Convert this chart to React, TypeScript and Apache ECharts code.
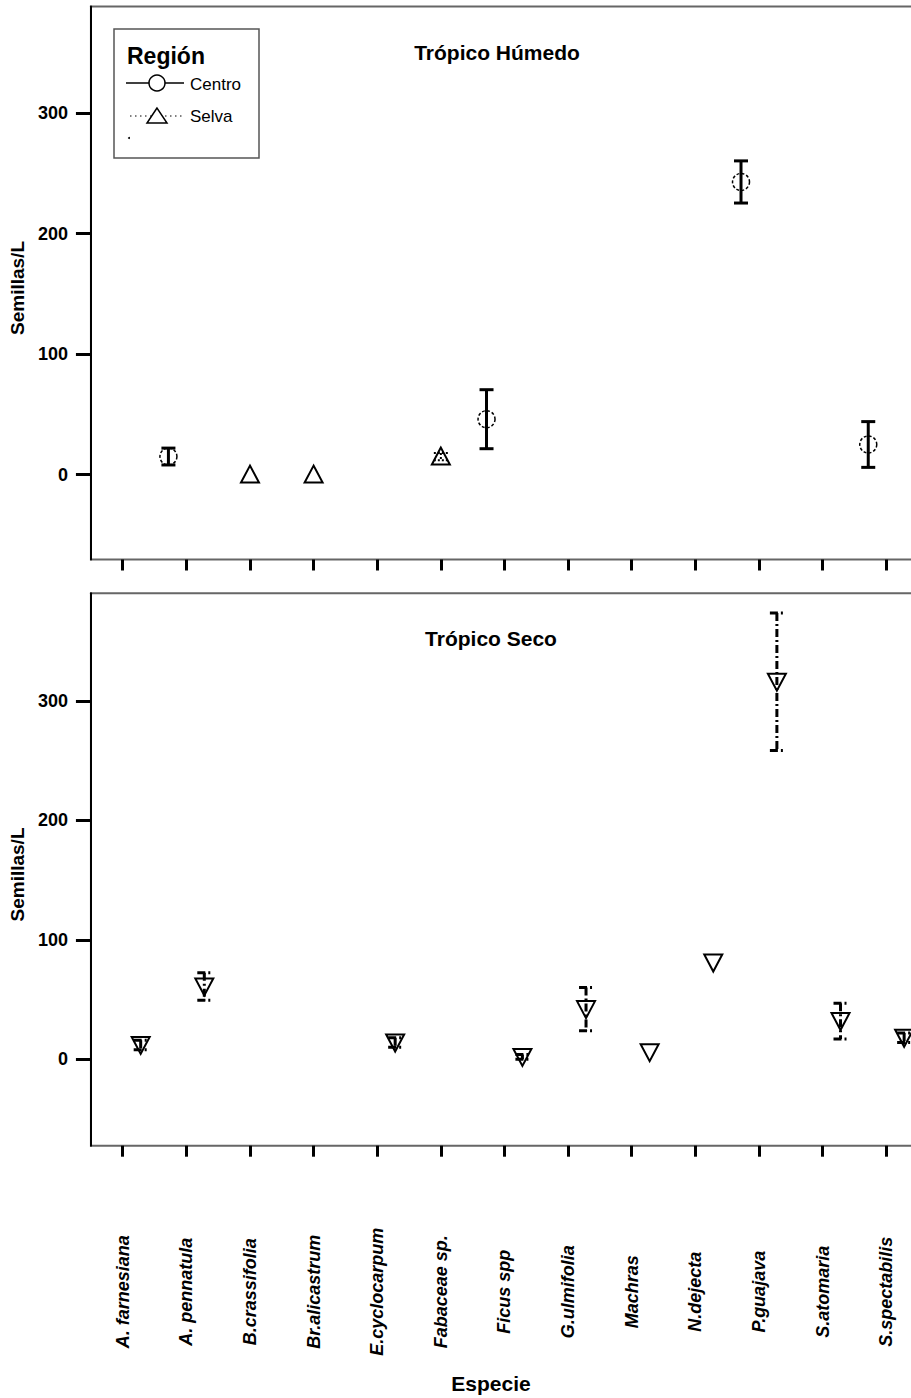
import React, { useEffect, useRef } from 'react';
import * as echarts from 'echarts';

const species = [
  'A. farnesiana', 'A. pennatula', 'B.crassifolia', 'Br.alicastrum', 'E.cyclocarpum',
  'Fabaceae sp.', 'Ficus spp', 'G.ulmifolia', 'Machras', 'N.dejecta',
  'P.guajava', 'S.atomaria', 'S.spectabilis',
];

// Trópico Húmedo — Centro
const centroMean = [null, 15, null, null, null, null, 46, null, null, null, 243, null, 25];
const centroErr = [null, 7, null, null, null, null, 24.5, null, null, null, 17.5, null, 19];
// Trópico Húmedo — Selva
const selvaMean = [null, null, 0, 0, null, 15, null, null, null, null, null, null, null];
const selvaErr = [null, null, 0, 0, null, 3, null, null, null, null, null, null, null];
// Trópico Seco — (región sin nombre)
const secoMean = [12, 61, null, null, 14, null, 2, 42, 6, 81, 316, 32, 18];
const secoErr = [4, 11.5, null, null, 4, null, 2, 18, 0, 0, 57.5, 15, 4];

const yTicks = [0, 100, 200, 300];

const FONT = 'Liberation Sans, Arial, Helvetica, sans-serif';

function buildData(mean: (number | null)[], err: (number | null)[]) {
  const out: number[][] = [];
  mean.forEach((m, i) => {
    if (m != null) {
      const e = err[i] || 0;
      out.push([i, m, m - e, m + e]);
    }
  });
  return out;
}

function makeRender(kind: 'circle' | 'up' | 'down', offsetFrac: number, barStyle: any) {
  return (params: any, api: any) => {
    const i = api.value(0);
    const m = api.value(1);
    const lo = api.value(2);
    const hi = api.value(3);
    const band = api.size([1, 0])[0];
    const c = api.coord([i, m]);
    const x = c[0] + band * offsetFrac;
    const cy = c[1];
    const yLo = api.coord([i, lo])[1];
    const yHi = api.coord([i, hi])[1];
    const children: any[] = [];
    if (Math.abs(yLo - yHi) > 0.5) {
      children.push({ type: 'line', shape: { x1: x, y1: yHi, x2: x, y2: yLo }, style: barStyle });
      children.push({ type: 'line', shape: { x1: x - 7, y1: yHi, x2: x + 7, y2: yHi }, style: barStyle });
      children.push({ type: 'line', shape: { x1: x - 7, y1: yLo, x2: x + 7, y2: yLo }, style: barStyle });
    }
    if (kind === 'circle') {
      children.push({
        type: 'circle',
        shape: { cx: x, cy, r: 8.5 },
        style: { fill: 'none', stroke: '#000', lineWidth: 1.5, lineDash: [3, 2] },
      });
    } else if (kind === 'up') {
      children.push({
        type: 'polygon',
        shape: { points: [[x, cy - 9], [x - 9, cy + 8], [x + 9, cy + 8]] },
        style: { fill: 'none', stroke: '#000', lineWidth: 2 },
      });
    } else {
      children.push({
        type: 'polygon',
        shape: { points: [[x - 9, cy - 8], [x + 9, cy - 8], [x, cy + 9]] },
        style: { fill: 'none', stroke: '#000', lineWidth: 2 },
      });
    }
    return { type: 'group', children };
  };
}

const yAxisBase = (gridIndex: number, min: number, max: number) => ({
  type: 'value',
  gridIndex,
  min,
  max,
  name: 'Semillas/L',
  nameLocation: 'middle',
  nameGap: 60,
  nameTextStyle: { fontFamily: FONT, fontWeight: 'bold', fontSize: 19, color: '#000', padding: [0, 10, 0, 0] },
  axisLine: { show: true, lineStyle: { color: '#000', width: 2 } },
  axisTick: { show: true, length: 15, customValues: yTicks, lineStyle: { color: '#000', width: 3 } },
  axisLabel: {
    customValues: yTicks,
    margin: 23,
    fontFamily: FONT,
    fontWeight: 'bold',
    fontSize: 18,
    color: '#000',
  },
  splitLine: { show: false },
});

const xAxisBase = (gridIndex: number, showLabels: boolean) => ({
  type: 'category',
  gridIndex,
  data: species,
  boundaryGap: true,
  axisLine: { show: false, onZero: false },
  axisTick: { show: true, alignWithLabel: true, length: 11, lineStyle: { color: '#000', width: 3 } },
  axisLabel: {
    show: showLabels,
    interval: 0,
    rotate: 90,
    align: 'center',
    verticalAlign: 'middle',
    margin: 146,
    fontFamily: FONT,
    fontWeight: 'bold',
    fontStyle: 'italic',
    fontSize: 18,
    color: '#000',
  },
  splitLine: { show: false },
});

const legendGraphic = [
  {
    type: 'rect',
    shape: { x: 114, y: 29, width: 145, height: 129 },
    style: { fill: '#fff', stroke: '#555', lineWidth: 1.5 },
    z: 10,
  },
  {
    type: 'text',
    x: 127,
    y: 56,
    style: { text: 'Región', font: `bold 23px ${FONT}`, fill: '#000', textVerticalAlign: 'middle' },
    z: 11,
  },
  { type: 'line', shape: { x1: 126, y1: 83, x2: 184, y2: 83 }, style: { stroke: '#000', lineWidth: 1.5 }, z: 11 },
  { type: 'circle', shape: { cx: 157, cy: 83, r: 8 }, style: { fill: '#fff', stroke: '#000', lineWidth: 1.5 }, z: 12 },
  {
    type: 'text',
    x: 190,
    y: 84,
    style: { text: 'Centro', font: `17px ${FONT}`, fill: '#000', textVerticalAlign: 'middle' },
    z: 11,
  },
  {
    type: 'line',
    shape: { x1: 130, y1: 116, x2: 182, y2: 116 },
    style: { stroke: '#000', lineWidth: 1.2, lineDash: [1.5, 3.5] },
    z: 11,
  },
  {
    type: 'polygon',
    shape: { points: [[157, 108], [147, 123], [167, 123]] },
    style: { fill: '#fff', stroke: '#000', lineWidth: 1.5 },
    z: 12,
  },
  {
    type: 'text',
    x: 190,
    y: 116,
    style: { text: 'Selva', font: `17px ${FONT}`, fill: '#000', textVerticalAlign: 'middle' },
    z: 11,
  },
  { type: 'circle', shape: { cx: 129, cy: 138, r: 1 }, style: { fill: '#000' }, z: 11 },
];

const titleGraphic = [
  {
    type: 'text',
    x: 497,
    y: 52,
    style: { text: 'Trópico Húmedo', font: `bold 21px ${FONT}`, fill: '#000', textAlign: 'center', textVerticalAlign: 'middle' },
  },
  {
    type: 'text',
    x: 491,
    y: 638,
    style: { text: 'Trópico Seco', font: `bold 21px ${FONT}`, fill: '#000', textAlign: 'center', textVerticalAlign: 'middle' },
  },
  {
    type: 'text',
    x: 491,
    y: 1383,
    style: { text: 'Especie', font: `bold 21px ${FONT}`, fill: '#000', textAlign: 'center', textVerticalAlign: 'middle' },
  },
];

export default function App() {
  const ref = useRef<HTMLDivElement>(null);
  useEffect(() => {
    if (!ref.current) return;
    const chart = echarts.init(ref.current, null, { renderer: 'svg' });
    const option: any = {
      animation: false,
      backgroundColor: '#fff',
      grid: [
        { left: 88, top: 6.5, width: 830, height: 553, show: true, borderColor: '#666', borderWidth: 2, containLabel: false },
        { left: 88, top: 593.3, width: 830, height: 552.4, show: true, borderColor: '#666', borderWidth: 2, containLabel: false },
      ],
      xAxis: [xAxisBase(0, false), xAxisBase(1, true)],
      yAxis: [yAxisBase(0, -70.5, 388.7), yAxisBase(1, -72.3, 390)],
      series: [
        {
          name: 'Centro',
          type: 'custom',
          xAxisIndex: 0,
          yAxisIndex: 0,
          data: buildData(centroMean, centroErr),
          encode: { x: 0, y: [1, 2, 3] },
          renderItem: makeRender('circle', -0.282, { stroke: '#000', lineWidth: 3 }),
        },
        {
          name: 'Selva',
          type: 'custom',
          xAxisIndex: 0,
          yAxisIndex: 0,
          data: buildData(selvaMean, selvaErr),
          encode: { x: 0, y: [1, 2, 3] },
          renderItem: makeRender('up', 0, { stroke: '#000', lineWidth: 2, lineDash: [2, 2] }),
        },
        {
          name: '.',
          type: 'custom',
          xAxisIndex: 1,
          yAxisIndex: 1,
          data: buildData(secoMean, secoErr),
          encode: { x: 0, y: [1, 2, 3] },
          renderItem: makeRender('down', 0.282, { stroke: '#000', lineWidth: 3, lineDash: [8, 3, 2, 3] }),
        },
      ],
      graphic: [...legendGraphic, ...titleGraphic],
    };
    chart.setOption(option);
    return () => chart.dispose();
  }, []);
  return (
    <div style={{ position: 'fixed', left: 0, top: 0, width: 911, height: 1398, overflow: 'hidden', background: '#fff' }}>
      <div ref={ref} style={{ width: 930, height: 1398 }} />
    </div>
  );
}
